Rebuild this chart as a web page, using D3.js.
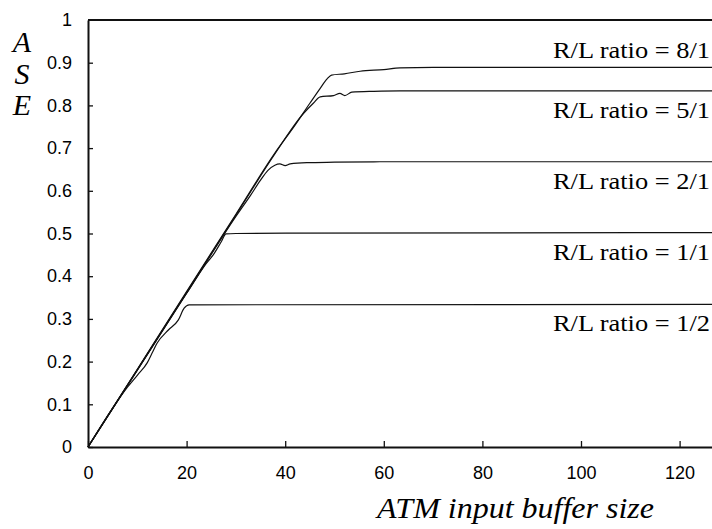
<!DOCTYPE html>
<html>
<head>
<meta charset="utf-8">
<script src="https://cdn.jsdelivr.net/npm/d3@7"></script>
<style>
  body { margin: 0; background: #fff; }
  svg { display: block; }
  .tick text { font-family: "Liberation Sans", Arial, sans-serif; font-size: 18px; fill: #000; }
  .ratio { font-family: "Liberation Serif", "Times New Roman", serif; font-size: 23px; fill: #000; }
  .title { font-family: "Liberation Serif", "Times New Roman", serif; font-style: italic; font-size: 30px; fill: #000; }
</style>
</head>
<body>
<div class="chart"></div>
<script>
// tick labels
const xTicks = [0, 20, 40, 60, 80, 100, 120];
const yTicks = [0, 0.1, 0.2, 0.3, 0.4, 0.5, 0.6, 0.7, 0.8, 0.9, 1];

// series labels
const ratioLabels = ['R/L ratio = 8/1', 'R/L ratio = 5/1', 'R/L ratio = 2/1', 'R/L ratio = 1/1', 'R/L ratio = 1/2'];

// series values (buffer size, ASE)
const ratio81x = [0, 10, 20, 30, 38, 42, 45, 47.1, 48.5, 49.4, 52, 55.2, 60, 63.3, 70, 130];
const ratio81y = [0, 0.182, 0.364, 0.545, 0.69, 0.754, 0.805, 0.84, 0.862, 0.871, 0.874, 0.88, 0.884, 0.888, 0.889, 0.889];

const ratio51x = [0, 10, 20, 30, 38, 43.7, 45.7, 47.1, 49.8, 51.1, 52.1, 53.5, 58, 63.3, 130];
const ratio51y = [0, 0.181, 0.362, 0.543, 0.688, 0.781, 0.805, 0.82, 0.823, 0.828, 0.823, 0.831, 0.833, 0.834, 0.834];

const ratio21x = [0, 10, 20, 30, 33, 35, 36.5, 37.9, 38.9, 40, 41, 44.4, 50, 59.2, 130];
const ratio21y = [0, 0.18, 0.36, 0.54, 0.59, 0.625, 0.648, 0.66, 0.663, 0.659, 0.663, 0.666, 0.667, 0.668, 0.668];

const ratio11x = [0, 10, 20, 24, 25.4, 27, 28, 30, 40, 130];
const ratio11y = [0, 0.18, 0.36, 0.43, 0.45, 0.48, 0.499, 0.5, 0.501, 0.502];

const ratio12x = [0, 5, 8, 10, 12, 13, 14, 16.3, 18.3, 19.5, 20.5, 130];
const ratio12y = [0, 0.091, 0.14, 0.168, 0.197, 0.22, 0.243, 0.274, 0.297, 0.325, 0.333, 0.334];

const seriesX = [ratio81x, ratio51x, ratio21x, ratio11x, ratio12x];
const seriesY = [ratio81y, ratio51y, ratio21y, ratio11y, ratio12y];

const W = 712, H = 529;
const svg = d3.select('.chart').append('svg').attr('width', W).attr('height', H);

const x = d3.scaleLinear().domain([0, 130]).range([88, 88 + 130 * 4.93]);
const y = d3.scaleLinear().domain([0, 1]).range([447, 20]);

// top frame line
svg.append('line')
  .attr('x1', x(0)).attr('x2', W)
  .attr('y1', y(1)).attr('y2', y(1))
  .attr('stroke', '#111').attr('stroke-width', 2);

// axes
const xAxis = svg.append('g')
  .attr('transform', `translate(0,${y(0)})`)
  .call(d3.axisBottom(x).tickValues(xTicks).tickSizeInner(-6).tickSizeOuter(0).tickPadding(19));
const yAxis = svg.append('g')
  .attr('transform', `translate(${x(0)},0)`)
  .call(d3.axisLeft(y).tickValues(yTicks).tickFormat(d3.format('~g')).tickSizeInner(-5).tickSizeOuter(0).tickPadding(16));

[xAxis, yAxis].forEach(g => {
  g.select('.domain').attr('stroke', '#111').attr('stroke-width', 2);
  g.selectAll('.tick line').attr('stroke', '#111').attr('stroke-width', 1.3);
});
yAxis.selectAll('.tick').filter(d => d === 1).select('line').remove();

// curves
const line = d3.line()
  .x(d => x(d[0]))
  .y(d => y(d[1]))
  .curve(d3.curveMonotoneX);

seriesX.forEach((xs, i) => {
  const pts = xs.map((v, j) => [v, seriesY[i][j]]);
  svg.append('path')
    .datum(pts)
    .attr('d', line)
    .attr('fill', 'none')
    .attr('stroke', '#111')
    .attr('stroke-width', 1.2);
});

// ratio labels: first above its plateau, rest below
svg.selectAll('.ratio')
  .data(ratioLabels)
  .enter()
  .append('text')
  .attr('class', 'ratio')
  .attr('x', 553)
  .attr('y', (d, i) => {
    const ys = seriesY[i];
    return y(ys[ys.length - 1]) + (i === 0 ? -9 : 27);
  })
  .attr('textLength', 157)
  .attr('lengthAdjust', 'spacingAndGlyphs')
  .text(d => d);

// axis titles
svg.append('text')
  .attr('class', 'title')
  .attr('x', 377)
  .attr('y', 518)
  .attr('textLength', 277)
  .attr('lengthAdjust', 'spacingAndGlyphs')
  .text('ATM input buffer size');

svg.selectAll('.ase')
  .data(['A', 'S', 'E'])
  .enter()
  .append('text')
  .attr('class', 'title')
  .attr('text-anchor', 'middle')
  .attr('x', 22)
  .attr('y', (d, i) => 52 + i * 31.5)
  .text(d => d);
</script>
</body>
</html>
